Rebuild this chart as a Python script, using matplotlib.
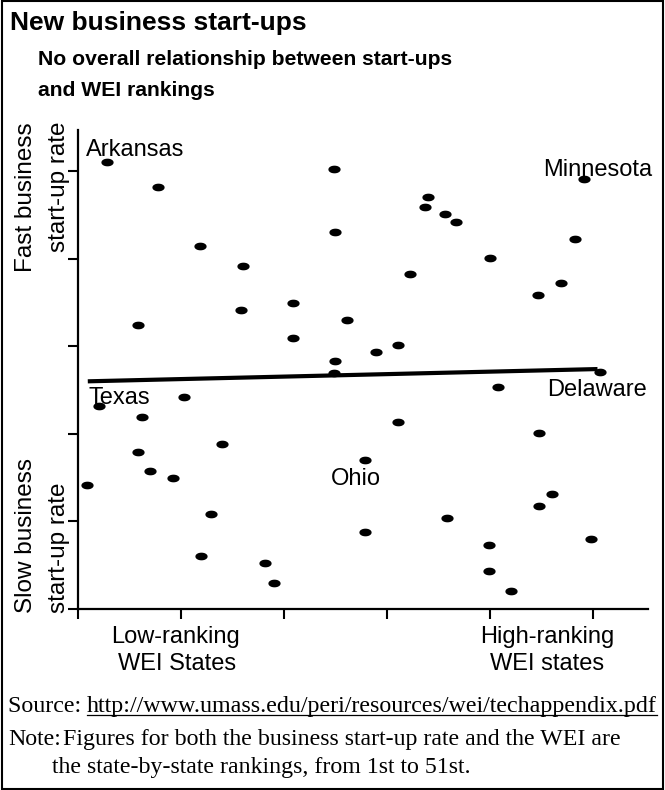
import matplotlib
matplotlib.use("Agg")
import matplotlib.pyplot as plt
import numpy as np
from matplotlib import font_manager
from matplotlib.path import Path
from matplotlib.patches import Rectangle
from matplotlib.lines import Line2D

W, H = 665, 790

# state-by-state rankings: WEI (x) and business start-up rate (y)
wei_rank = [2.8, 24.8, 7.8, 24.9, 11.8, 16.0, 20.9, 15.8, 5.8, 20.9, 24.9,
            34.0, 33.7, 35.6, 36.7, 49.1, 48.2, 40.0, 32.2, 46.9, 44.6, 26.1,
            31.0, 28.9, 24.8,
            2.0, 10.3, 6.2, 5.8, 14.0, 7.0, 9.2, 0.9, 12.9, 11.9, 18.1, 19.0,
            50.6, 40.7, 31.0, 44.7, 27.8, 46.0, 44.7, 35.8, 27.8, 49.8, 39.9,
            39.9, 42.0]
startup_rank = [51.1, 50.2, 48.2, 43.0, 41.4, 39.2, 34.9, 34.2, 32.4, 31.0, 28.3,
                47.1, 45.9, 45.1, 44.2, 49.1, 42.3, 40.1, 38.2, 37.2, 35.9, 33.0,
                30.1, 29.3, 26.9,
                23.2, 24.2, 21.9, 17.9, 18.8, 15.8, 15.0, 14.2, 10.9, 6.1, 5.2, 3.0,
                27.1, 25.3, 21.3, 20.1, 17.0, 13.1, 11.8, 10.4, 8.8, 8.0, 7.3,
                4.3, 2.0]

# regression line (end points)
fit_x = [0.95, 50.4]
fit_y = [26.0, 27.4]

named_states = ["Arkansas", "Minnesota", "Texas", "Delaware", "Ohio"]
named_idx = [0, 15, 25, 37, 41]

ticks = [0, 10, 20, 30, 40, 50]

sans = "Liberation Sans"
serif = "Liberation Serif"

# the headline face is a tall, narrow bold; use the narrow cut if present
installed = {f.name for f in font_manager.fontManager.ttflist}
if "Liberation Sans Narrow" in installed:
    head_font, title_size, sub_size = "Liberation Sans Narrow", 22, 18.5
else:
    head_font, title_size, sub_size = sans, 19, 15.2


def fx(px):
    return px / W


def fy(py):
    return 1 - py / H


fig = plt.figure(figsize=(W / 100, H / 100), dpi=100)
ax = fig.add_axes([fx(78), fy(609), 570 / W, 479 / H])

# flat ellipse marker
t = np.linspace(0, 2 * np.pi, 40)
ellipse = Path(np.column_stack([np.cos(t), 0.58 * np.sin(t)]), closed=True)

ax.plot(fit_x, fit_y, color="black", lw=3, solid_capstyle="butt", zorder=2)
ax.plot(wei_rank, startup_rank, ls="none", marker=ellipse, ms=7.8,
        color="black", zorder=3)

# label offsets in pixels from the point they name
offsets = [(-20.6, 5.7), (-41.3, 3), (-10.6, 2), (-52.3, -24), (-33.3, -25)]
for name, i, off in zip(named_states, named_idx, offsets):
    ax.annotate(name, (wei_rank[i], startup_rank[i]), xytext=off,
                textcoords="offset pixels", ha="left", va="baseline",
                fontsize=17, family=sans)

ax.set_xlim(0, 55.3)
ax.set_ylim(0, 54.7)
ax.set_xticks(ticks)
ax.set_yticks(ticks)
ax.set_xticklabels([])
ax.set_yticklabels([])
ax.tick_params(direction="out", length=7.5, width=1.5, color="black")
for s in ["top", "right"]:
    ax.spines[s].set_visible(False)
for s in ["left", "bottom"]:
    ax.spines[s].set_linewidth(1.6)

# titles
fig.text(fx(10), fy(30), "New business start-ups", fontsize=title_size,
         fontweight="bold", family=head_font, va="baseline")
fig.text(fx(38), fy(65), "No overall relationship between start-ups",
         fontsize=sub_size, fontweight="bold", family=head_font, va="baseline")
fig.text(fx(38), fy(96), "and WEI rankings",
         fontsize=sub_size, fontweight="bold", family=head_font, va="baseline")

# y-axis side labels
for txt, bx in [("Fast business", 32), ("start-up rate", 65)]:
    fig.text(fx(bx), fy(122), txt, rotation=90, rotation_mode="anchor",
             ha="right", va="baseline", fontsize=17.5, family=sans)
for txt, bx in [("Slow business", 32), ("start-up rate", 65)]:
    fig.text(fx(bx), fy(613), txt, rotation=90, rotation_mode="anchor",
             ha="left", va="baseline", fontsize=17.5, family=sans)

# x-axis side labels
for txt, cx, by in [("Low-ranking", 176, 643), ("WEI States", 177, 670),
                    ("High-ranking", 547, 643), ("WEI states", 547, 670)]:
    fig.text(fx(cx), fy(by), txt, ha="center", va="baseline",
             fontsize=17, family=sans)

# source and note
fig.canvas.draw()
r = fig.canvas.get_renderer()
src = fig.text(fx(8), fy(712), "Source: ", fontsize=17.3, family=serif,
               va="baseline")
bb = src.get_window_extent(r)
url = fig.text(bb.x1 / W, fy(712), "http://www.umass.edu/peri/resources/wei/techappendix.pdf",
               fontsize=17.3, family=serif, va="baseline")
ub = url.get_window_extent(r)
fig.add_artist(Line2D([ub.x0 / W, ub.x1 / W], [fy(715), fy(715)],
                      transform=fig.transFigure, color="black", lw=0.9))

fig.text(fx(8), fy(745), "Note:", fontsize=17.2, family=serif, va="baseline")
fig.text(fx(63), fy(745),
         "Figures for both the business start-up rate and the WEI are",
         fontsize=17.2, family=serif, va="baseline")
fig.text(fx(52), fy(773), "the state-by-state rankings, from 1st to 51st.",
         fontsize=17.2, family=serif, va="baseline")

# frame round the whole graphic
fig.add_artist(Rectangle((fx(2), fy(789)), 661 / W, 788 / H,
                         transform=fig.transFigure, fill=False,
                         ec="black", lw=1.5))

fig.savefig("out.png", dpi=100)
